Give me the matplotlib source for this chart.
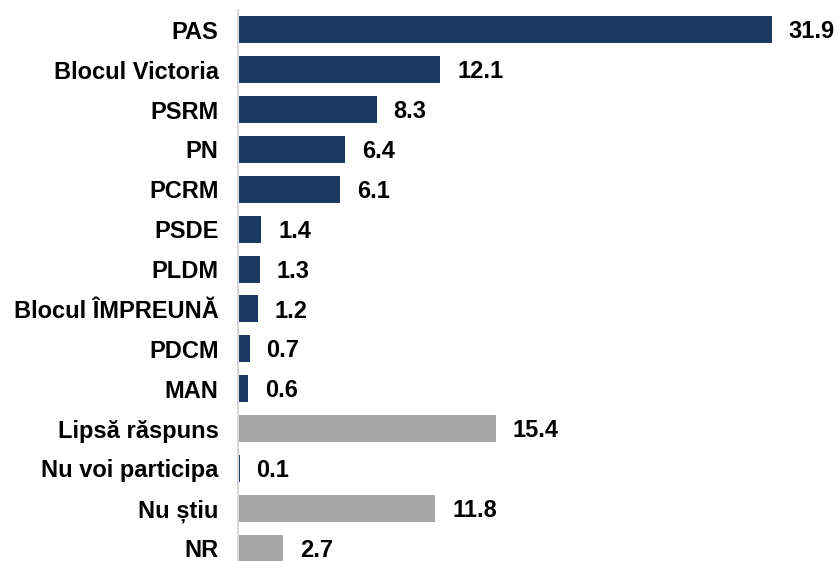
import matplotlib.pyplot as plt

labels = ["PAS", "Blocul Victoria", "PSRM", "PN", "PCRM", "PSDE", "PLDM",
          "Blocul ÎMPREUNĂ", "PDCM", "MAN", "Lipsă răspuns", "Nu voi participa",
          "Nu știu", "NR"]
values = [31.9, 12.1, 8.3, 6.4, 6.1, 1.4, 1.3, 1.2, 0.7, 0.6, 15.4, 0.1, 11.8, 2.7]
value_text = ["31.9", "12.1", "8.3", "6.4", "6.1", "1.4", "1.3", "1.2", "0.7", "0.6",
              "15.4", "0.1", "11.8", "2.7"]
gray_rows = ["Lipsă răspuns", "Nu știu", "NR"]

blue = "#1b3a61"
gray = "#a6a6a6"
colors = [gray if l in gray_rows else blue for l in labels]

plt.rcParams['font.family'] = ['Liberation Sans', 'DejaVu Sans']

fig = plt.figure(figsize=(8.38, 5.61), dpi=100)
ax = fig.add_axes([0.284, -0.0125, 0.716, 0.9947])

y = list(range(len(labels)))
bars = ax.barh(y, values, height=0.68, color=colors)
ax.set_ylim(len(labels) - 0.5, -0.5)
ax.set_xlim(0, 35.87)

for b, t in zip(bars, value_text):
    ax.annotate(t, (b.get_width(), b.get_y() + b.get_height() / 2),
                xytext=(12, -1.5), textcoords="offset points",
                ha="left", va="center", fontsize=17, fontweight="bold")

ax.set_yticks(y)
ax.set_yticklabels(labels, fontsize=17, fontweight="bold")
ax.tick_params(axis="y", length=0, pad=14)
ax.set_xticks([])
for s in ["top", "right", "bottom"]:
    ax.spines[s].set_visible(False)
ax.spines["left"].set_color("#d9d9d9")
ax.spines["left"].set_linewidth(1.5)

fig.savefig("out.png", dpi=100)
